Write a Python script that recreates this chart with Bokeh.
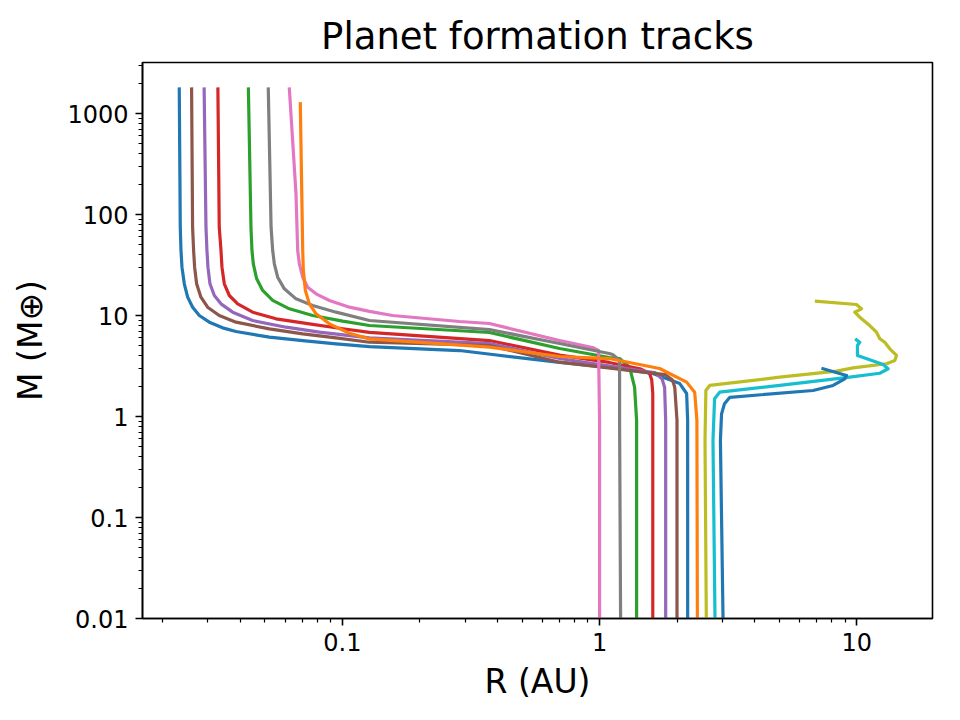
from bokeh.plotting import figure
from bokeh.models import Range1d, FixedTicker, CustomJSTickFormatter
from bokeh.embed import file_html
from bokeh.resources import INLINE

# ---- data (R in AU, M in Earth masses), each track from start (bottom) to end ----
bluein_r = [2.2, 2.2, 2.18, 2.05, 1.61, 1.09, 0.699, 0.3835, 0.285, 0.1274, 0.0945, 0.0701, 0.0520, 0.03858, 0.03422, 0.03038, 0.02777, 0.02616, 0.02502, 0.02428, 0.02378, 0.02357, 0.02342, 0.02321]
bluein_m = [0.01, 0.913, 1.69, 2.12, 2.67, 3.06, 3.43, 4.11, 4.50, 4.93, 5.24, 5.65, 6.10, 6.94, 7.55, 8.59, 10.0, 12.09, 15.2, 20.6, 30.1, 44.0, 74.9, 1750]

orange_r = [2.40, 2.39, 2.343, 2.18, 1.712, 1.09, 0.699, 0.3733, 0.1274, 0.1065, 0.089, 0.07898, 0.0744, 0.07178, 0.07048, 0.0701, 0.0686]
orange_m = [0.01, 0.913, 1.74, 2.19, 2.99, 3.75, 3.93, 4.86, 5.87, 6.68, 8.27, 10.39, 13.05, 17.7, 27.9, 44.0, 1250]

green_r = [1.393, 1.393, 1.368, 1.308, 1.196, 1.09, 0.699, 0.373, 0.1274, 0.1003, 0.07663, 0.06219, 0.05357, 0.04898, 0.04641, 0.04504, 0.04450, 0.0441, 0.0431]
green_m = [0.01, 0.913, 1.95, 3.08, 3.75, 3.84, 4.71, 6.79, 7.96, 8.79, 10.0, 11.65, 14.1, 17.7, 23.1, 32.5, 44.0, 74.9, 1750]

red_r = [1.61, 1.61, 1.595, 1.565, 1.45, 1.09, 0.699, 0.373, 0.1274, 0.1003, 0.0744, 0.05518, 0.04478, 0.03916, 0.03633, 0.03474, 0.03402, 0.03372, 0.0332, 0.0328]
red_m = [0.01, 1.69, 2.3, 2.67, 2.95, 3.43, 4.05, 5.65, 6.8, 7.4, 8.27, 9.27, 10.79, 13.05, 15.78, 20.6, 30.1, 44.0, 74.9, 1750]

purple_r = [1.807, 1.807, 1.79, 1.75, 1.65, 0.699, 0.373, 0.1274, 0.08137, 0.06036, 0.04478, 0.03743, 0.03372, 0.03177, 0.03055, 0.03001, 0.02974, 0.02948, 0.0290]
purple_m = [0.01, 0.913, 1.95, 2.35, 2.7, 3.75, 5.28, 6.01, 6.84, 7.66, 8.92, 10.79, 13.05, 15.78, 20.6, 30.1, 44.0, 74.9, 1750]

brown_r = [2.0, 2.0, 1.96, 1.92, 1.80, 0.699, 0.373, 0.1274, 0.0945, 0.0701, 0.0520, 0.03858, 0.0332, 0.02992, 0.02818, 0.02711, 0.02663, 0.02639, 0.02615, 0.02592]
brown_m = [0.01, 0.913, 1.95, 2.3, 2.6, 3.45, 5.05, 5.44, 6.01, 6.59, 7.38, 8.59, 10.0, 12.09, 15.2, 20.6, 30.1, 44.0, 74.9, 1750]

pink_r = [1.0, 1.0, 0.991, 0.939, 0.699, 0.373, 0.285, 0.1565, 0.1274, 0.1065, 0.0890, 0.07898, 0.0733, 0.0701, 0.06803, 0.06701, 0.066, 0.0622]
pink_m = [0.01, 0.91, 4.5, 4.82, 5.65, 8.33, 8.72, 10.0, 11.0, 12.09, 14.08, 16.39, 19.08, 23.96, 32.5, 44.0, 161, 1750]

gray_r = [1.207, 1.196, 1.196, 1.123, 1.09, 0.699, 0.373, 0.1274, 0.0945, 0.07663, 0.06601, 0.05947, 0.05601, 0.05437, 0.05357, 0.0528, 0.0515]
gray_m = [0.01, 0.913, 3.6, 4.11, 4.21, 5.28, 7.26, 8.92, 10.79, 12.56, 14.62, 18.37, 23.96, 32.5, 44.0, 74.9, 1750]

olive_r = [2.60, 2.57, 2.59, 2.68, 5.02, 8.34, 9.67, 13.05, 14.06, 14.27, 13.44, 12.85, 12.29, 11.93, 11.23, 10.27, 9.82, 10.43, 9.97, 6.97]
olive_m = [0.01, 0.578, 1.81, 2.03, 2.45, 2.81, 3.03, 3.33, 3.59, 4.02, 4.68, 5.44, 5.88, 6.83, 7.96, 9.62, 10.78, 11.65, 12.85, 13.86]

cyan_r = [2.81, 2.76, 2.80, 2.93, 5.02, 9.39, 12.29, 13.24, 12.66, 11.23, 10.06, 10.06, 10.27, 9.97]
cyan_m = [0.01, 0.578, 1.50, 1.74, 2.03, 2.45, 2.68, 2.97, 3.27, 3.64, 4.02, 5.05, 5.44, 5.75]

blueout_r = [3.02, 2.95, 2.98, 3.06, 3.21, 6.76, 8.09, 8.98, 9.12, 7.39]
blueout_m = [0.01, 0.578, 1.06, 1.34, 1.55, 1.81, 2.03, 2.36, 2.55, 2.97]

x_ticks = [0.1, 1, 10]
y_ticks = [0.01, 0.1, 1, 10, 100, 1000]

FONT = "DejaVu Sans"

p = figure(width=960, height=720, x_axis_type="log", y_axis_type="log",
           x_range=Range1d(0.0167, 19.7), y_range=Range1d(0.01, 3200),
           output_backend="svg", toolbar_location=None,
           min_border_left=142, min_border_right=28, min_border_top=62, min_border_bottom=102)

tracks = [
    (bluein_r, bluein_m, "#1f77b4"),
    (green_r, green_m, "#2ca02c"),
    (red_r, red_m, "#d62728"),
    (purple_r, purple_m, "#9467bd"),
    (brown_r, brown_m, "#8c564b"),
    (pink_r, pink_m, "#e377c2"),
    (gray_r, gray_m, "#7f7f7f"),
    (olive_r, olive_m, "#bcbd22"),
    (cyan_r, cyan_m, "#17becf"),
    (blueout_r, blueout_m, "#1f77b4"),
    (orange_r, orange_m, "#ff7f0e"),
]
for r, m, c in tracks:
    p.line(r, m, line_color=c, line_width=3.2, line_join="round", line_cap="square")

def minors(lo_exp, hi_exp):
    out = []
    for e in range(lo_exp, hi_exp + 1):
        for k in range(2, 10):
            out.append(k * 10.0 ** e)
    return out

p.xaxis.ticker = FixedTicker(ticks=x_ticks, minor_ticks=minors(-2, 1))
p.yaxis.ticker = FixedTicker(ticks=y_ticks, minor_ticks=minors(-2, 3))
fmt = CustomJSTickFormatter(code="return String(parseFloat(tick.toPrecision(6)));")
p.xaxis.formatter = fmt
p.yaxis.formatter = fmt

p.xaxis.axis_label = "R (AU)"
p.yaxis.axis_label = "M (M⊕)"

for ax in (p.xaxis, p.yaxis):
    ax.major_tick_out = 7
    ax.major_tick_in = 0
    ax.minor_tick_out = 4
    ax.minor_tick_in = 0
    ax.axis_line_width = 1.6
    ax.major_tick_line_width = 1.6
    ax.minor_tick_line_width = 1.2
    ax.axis_line_color = "black"
    ax.major_tick_line_color = "black"
    ax.minor_tick_line_color = "black"
    ax.major_label_text_font = FONT
    ax.major_label_text_font_size = "24px"
    ax.major_label_text_color = "black"
    ax.axis_label_text_font = FONT
    ax.axis_label_text_font_size = "33px"
    ax.axis_label_text_font_style = "normal"
    ax.axis_label_text_color = "black"
    ax.major_label_standoff = 7

p.xaxis.axis_label_standoff = 8
p.yaxis.axis_label_standoff = 14

p.grid.visible = False
p.outline_line_color = "black"
p.outline_line_width = 1.6
p.outline_line_alpha = 1.0

p.title.text = "Planet formation tracks"
p.title.align = "center"
p.title.text_font = FONT
p.title.text_font_size = "37px"
p.title.text_font_style = "normal"
p.title.text_color = "black"

p.background_fill_color = "white"
p.border_fill_color = "white"

open("out.html", "w").write(file_html(p, INLINE))
